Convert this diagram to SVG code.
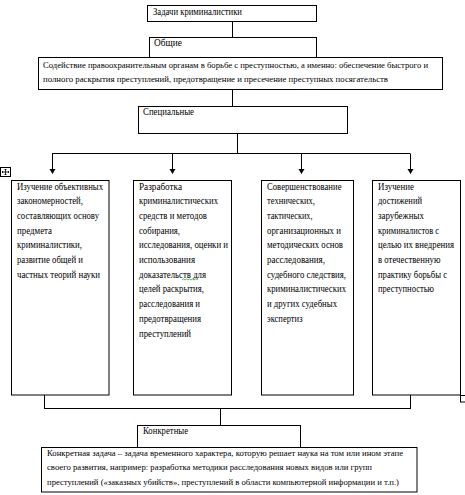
<svg xmlns="http://www.w3.org/2000/svg" width="465" height="495" viewBox="0 0 465 495">
<defs>
<style>
.b{fill:#fff;stroke:#000;stroke-width:1}
.c{fill:none;stroke:#000;stroke-width:1}
.t{font-family:"Liberation Serif","Times New Roman",serif;font-size:10px;fill:#000}
.s{font-size:9.2px}
</style>
</defs>
<rect width="465" height="495" fill="#fff"/>
<g id="connectors">
<line class="c" x1="232.5" y1="21" x2="232.5" y2="40"/>
<line class="c" x1="232.5" y1="90" x2="232.5" y2="107"/>
<line class="c" x1="237.5" y1="134" x2="237.5" y2="153.5"/>
<line class="c" x1="52" y1="153.5" x2="410" y2="153.5"/>
<line class="c" x1="52.5" y1="153.5" x2="52.5" y2="169"/>
<line class="c" x1="172.5" y1="153.5" x2="172.5" y2="169"/>
<line class="c" x1="301.5" y1="153.5" x2="301.5" y2="169"/>
<line class="c" x1="410.5" y1="153.5" x2="410.5" y2="169"/>
<path d="M49.5,169 L55.5,169 L52.5,174 Z M169.5,169 L175.5,169 L172.5,174 Z M298.5,169 L304.5,169 L301.5,174 Z M407.5,169 L413.5,169 L410.5,174 Z" fill="#000"/>
<line class="c" x1="44.5" y1="395" x2="44.5" y2="408.5"/>
<line class="c" x1="410.5" y1="395" x2="410.5" y2="408.5"/>
<line class="c" x1="44" y1="408.5" x2="411" y2="408.5"/>
<line class="c" x1="220.5" y1="408.5" x2="220.5" y2="425"/>
</g>
<g class="t" font-family="Liberation Serif, Times New Roman, serif" font-size="10">
<g id="n-title">
<rect class="b" x="147.5" y="5.5" width="169" height="16"/>
<text x="153" y="14.5" textLength="89" lengthAdjust="spacingAndGlyphs">Задачи криминалистики</text>
</g>
<g id="n-general">
<rect class="b" x="149.5" y="37.5" width="167" height="20"/>
<text x="154" y="45.5" textLength="28" lengthAdjust="spacingAndGlyphs">Общие</text>
</g>
<g id="n-general-text">
<rect class="b" x="38.5" y="57.5" width="404" height="32"/>
<text class="s" x="43" y="67.5" textLength="385" lengthAdjust="spacingAndGlyphs">Содействие правоохранительным органам в борьбе с преступностью, а именно: обеспечение быстрого и</text>
<text class="s" x="43" y="81.5" textLength="345" lengthAdjust="spacingAndGlyphs">полного раскрытия преступлений, предотвращение и пресечение преступных посягательств</text>
</g>
<g id="n-special">
<rect class="b" x="138.5" y="106.5" width="209" height="27"/>
<text x="143" y="114.5" textLength="51" lengthAdjust="spacingAndGlyphs">Специальные</text>
</g>
<g id="n-s1">
<rect class="b" x="11.5" y="180.5" width="97.5" height="214.5"/>
<text x="17" y="189.5" textLength="86" lengthAdjust="spacingAndGlyphs">Изучение объективных</text>
<text x="17" y="204.2" textLength="66" lengthAdjust="spacingAndGlyphs">закономерностей,</text>
<text x="17" y="218.9" textLength="82" lengthAdjust="spacingAndGlyphs">составляющих основу</text>
<text x="17" y="233.6" textLength="35" lengthAdjust="spacingAndGlyphs">предмета</text>
<text x="17" y="248.3" textLength="65" lengthAdjust="spacingAndGlyphs">криминалистики,</text>
<text x="17" y="263" textLength="66" lengthAdjust="spacingAndGlyphs">развитие общей и</text>
<text x="17" y="277.7" textLength="83" lengthAdjust="spacingAndGlyphs">частных теорий науки</text>
</g>
<g id="n-s2">
<rect class="b" x="133.5" y="180.5" width="98" height="214.5"/>
<text x="139" y="189.5" textLength="43" lengthAdjust="spacingAndGlyphs">Разработка</text>
<text x="139" y="204.2" textLength="79" lengthAdjust="spacingAndGlyphs">криминалистических</text>
<text x="139" y="218.9" textLength="68" lengthAdjust="spacingAndGlyphs">средств и методов</text>
<text x="139" y="233.6" textLength="41" lengthAdjust="spacingAndGlyphs">собирания,</text>
<text x="139" y="248.3" textLength="89" lengthAdjust="spacingAndGlyphs">исследования, оценки и</text>
<text x="139" y="263" textLength="56" lengthAdjust="spacingAndGlyphs">использования</text>
<text x="139" y="277.7" textLength="67" lengthAdjust="spacingAndGlyphs">доказательств для</text>
<path d="M182,280 l1.5,-1 l1.5,1 l1.5,-1 l1.5,1 l1.5,-1 l1.5,1 l1.5,-1 l1.5,1 l1.5,-1 l1.5,1" fill="none" stroke="#3a3" stroke-width="0.8"/>
<text x="139" y="292.4" textLength="65" lengthAdjust="spacingAndGlyphs">целей раскрытия,</text>
<text x="139" y="307.1" textLength="61" lengthAdjust="spacingAndGlyphs">расследования и</text>
<text x="139" y="321.8" textLength="62" lengthAdjust="spacingAndGlyphs">предотвращения</text>
<text x="139" y="336.5" textLength="52" lengthAdjust="spacingAndGlyphs">преступлений</text>
</g>
<g id="n-s3">
<rect class="b" x="261.5" y="180.5" width="92" height="214.5"/>
<text x="267" y="189.5" textLength="74.5" lengthAdjust="spacingAndGlyphs">Совершенствование</text>
<text x="267" y="204.2" textLength="48" lengthAdjust="spacingAndGlyphs">технических,</text>
<text x="267" y="218.9" textLength="45.5" lengthAdjust="spacingAndGlyphs">тактических,</text>
<text x="267" y="233.6" textLength="74" lengthAdjust="spacingAndGlyphs">организационных и</text>
<text x="267" y="248.3" textLength="76" lengthAdjust="spacingAndGlyphs">методических основ</text>
<text x="267" y="263" textLength="58" lengthAdjust="spacingAndGlyphs">расследования,</text>
<text x="267" y="277.7" textLength="79" lengthAdjust="spacingAndGlyphs">судебного следствия,</text>
<text x="267" y="292.4" textLength="79" lengthAdjust="spacingAndGlyphs">криминалистических</text>
<text x="267" y="307.1" textLength="70" lengthAdjust="spacingAndGlyphs">и других судебных</text>
<text x="267" y="321.8" textLength="35.5" lengthAdjust="spacingAndGlyphs">экспертиз</text>
</g>
<g id="n-s4">
<rect class="b" x="372.5" y="180.5" width="88" height="214.5"/>
<text x="378" y="189.5" textLength="36" lengthAdjust="spacingAndGlyphs">Изучение</text>
<text x="378" y="204.2" textLength="44" lengthAdjust="spacingAndGlyphs">достижений</text>
<text x="378" y="218.9" textLength="46" lengthAdjust="spacingAndGlyphs">зарубежных</text>
<text x="378" y="233.6" textLength="61" lengthAdjust="spacingAndGlyphs">криминалистов с</text>
<text x="378" y="248.3" textLength="76" lengthAdjust="spacingAndGlyphs">целью их внедрения</text>
<text x="378" y="263" textLength="62.5" lengthAdjust="spacingAndGlyphs">в отечественную</text>
<text x="378" y="277.7" textLength="69" lengthAdjust="spacingAndGlyphs">практику борьбы с</text>
<text x="378" y="292.4" textLength="56" lengthAdjust="spacingAndGlyphs">преступностью</text>
</g>
<g id="n-concrete">
<rect class="b" x="137.5" y="425.5" width="163" height="22"/>
<text x="143" y="433.5" textLength="45" lengthAdjust="spacingAndGlyphs">Конкретные</text>
</g>
<g id="n-concrete-text">
<rect class="b" x="41.5" y="447.5" width="375.5" height="44.5"/>
<text class="s" x="47" y="455.5" textLength="356" lengthAdjust="spacingAndGlyphs">Конкретная задача – задача временного характера, которую решает наука на том или ином этапе</text>
<text class="s" x="47" y="470" textLength="325" lengthAdjust="spacingAndGlyphs">своего развития, например: разработка методики расследования новых видов или групп</text>
<text class="s" x="47" y="484.5" textLength="352" lengthAdjust="spacingAndGlyphs">преступлений («заказных убийств», преступлений в области компьютерной информации и т.п.)</text>
</g>
</g>
<g id="handles">
<rect class="b" x="0.5" y="167.5" width="10" height="9"/>
<path d="M5.5,169 V175 M2,172 H9 M4.5,170 L5.5,169 L6.5,170 M4.5,174 L5.5,175 L6.5,174 M3,171 L2,172 L3,173 M8,171 L9,172 L8,173" fill="none" stroke="#000" stroke-width="0.8"/>
<rect class="b" x="460.5" y="395.5" width="6" height="6.5"/>
</g>
</svg>
